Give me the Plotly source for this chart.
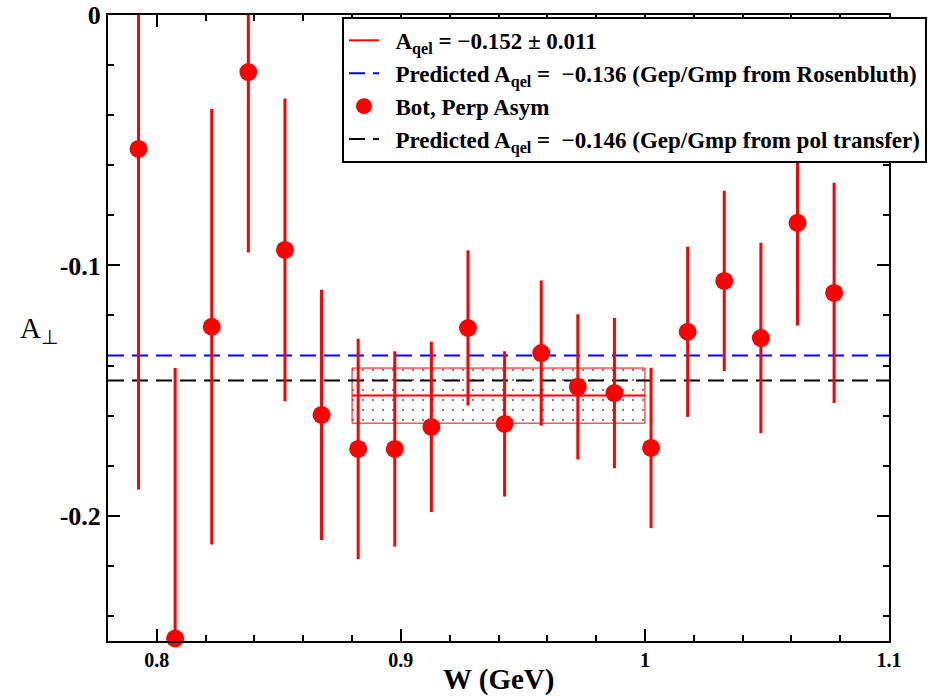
import plotly.graph_objects as go

# Data
W = [0.7925, 0.8075, 0.8225, 0.8375, 0.8525, 0.8675, 0.8825, 0.8975, 0.9125, 0.9275,
     0.9425, 0.9575, 0.9725, 0.9875, 1.0025, 1.0175, 1.0325, 1.0475, 1.0625, 1.0775]
A_perp = [-0.0535, -0.249, -0.1245, -0.0228, -0.0938, -0.1597, -0.1733, -0.1733, -0.1645, -0.125,
          -0.1633, -0.135, -0.1485, -0.151, -0.1729, -0.1265, -0.1062, -0.129, -0.083, -0.111]
A_err = [0.136, 0.108, 0.087, 0.072, 0.0605, 0.050, 0.044, 0.039, 0.034, 0.031,
         0.029, 0.029, 0.029, 0.030, 0.032, 0.034, 0.036, 0.038, 0.041, 0.044]

fit_value = -0.152
fit_error = 0.011
fit_range = [0.88, 1.0]
pred_rosenbluth = -0.136
pred_poltransfer = -0.146
x_range = [0.78, 1.1]
y_range = [-0.25, 0.0]

x_tickvals = [0.8, 0.9, 1.0, 1.1]
x_ticktext = ["0.8", "0.9", "1", "1.1"]
y_tickvals = [0.0, -0.1, -0.2]
y_ticktext = ["0", "-0.1", "-0.2"]

GAP = "\u2002"  # spacing between legend symbol and text

fig = go.Figure()

# Error band box (dotted)
lo, hi = fit_value - fit_error, fit_value + fit_error
fig.add_trace(go.Scatter(
    x=[fit_range[0], fit_range[1], fit_range[1], fit_range[0], fit_range[0]],
    y=[lo, lo, hi, hi, lo],
    mode="lines", fill="toself",
    line=dict(color="red", width=1),
    fillcolor="white",
    fillpattern=dict(shape=".", fgcolor="black", bgcolor="white", size=10, solidity=0.04),
    showlegend=False, hoverinfo="skip"))

fig.add_trace(go.Scatter(
    x=fit_range, y=[fit_value, fit_value], mode="lines",
    line=dict(color="red", width=2),
    name=GAP + "A<sub>qel</sub> = \u22120.152 \u00b1 0.011", legendrank=1))

fig.add_trace(go.Scatter(
    x=x_range, y=[pred_rosenbluth, pred_rosenbluth], mode="lines",
    line=dict(color="#0000ff", width=2, dash="16px,8px"),
    name=GAP + "Predicted A<sub>qel</sub> =  \u22120.136 (Gep/Gmp from Rosenbluth)", legendrank=2))

fig.add_trace(go.Scatter(
    x=x_range, y=[pred_poltransfer, pred_poltransfer], mode="lines",
    line=dict(color="black", width=2, dash="16px,8px"),
    name=GAP + "Predicted A<sub>qel</sub> =  \u22120.146 (Gep/Gmp from pol transfer)", legendrank=4))

fig.add_trace(go.Scatter(
    x=W, y=A_perp, mode="markers",
    marker=dict(color="red", size=18, symbol="circle"),
    error_y=dict(type="data", array=A_err, visible=True, color="red", thickness=3, width=0),
    name=GAP + "Bot, Perp Asym", legendrank=3, cliponaxis=False))

axis_common = dict(
    showgrid=False, zeroline=False, showline=True, linecolor="black", linewidth=2,
    mirror="allticks", ticks="inside", ticklen=12, tickwidth=2, tickcolor="black",
    automargin=False,
)

fig.update_xaxes(range=x_range, tickvals=x_tickvals, ticktext=x_ticktext,
                 tickfont=dict(family="Liberation Serif", size=20, color="black", weight="bold"),
                 minor=dict(dtick=0.02, ticks="inside", ticklen=6, tickwidth=2, tickcolor="black"),
                 **axis_common)
fig.update_yaxes(range=y_range, tickvals=y_tickvals, ticktext=y_ticktext,
                 tickfont=dict(family="Liberation Serif", size=26, color="black", weight="bold"),
                 minor=dict(dtick=0.02, tick0=0, ticks="inside", ticklen=6, tickwidth=2, tickcolor="black"),
                 **axis_common)

fig.add_annotation(text="W (GeV)", xref="paper", yref="paper",
                   x=0.4994, y=-0.061, xanchor="center", yanchor="middle", showarrow=False,
                   font=dict(family="Liberation Serif", size=29, color="black", weight="bold"))

fig.add_annotation(text="A<sub>\u22a5</sub>", xref="paper", yref="paper",
                   x=-0.115, y=0.497, xanchor="left", yanchor="middle", showarrow=False,
                   font=dict(family="Liberation Serif", size=29, color="black"))

fig.update_layout(
    width=945, height=696,
    margin=dict(l=108, r=56, t=15, b=55),
    plot_bgcolor="white", paper_bgcolor="white",
    legend=dict(x=0.2996, y=0.997, xanchor="left", yanchor="top",
                bgcolor="white", bordercolor="black", borderwidth=2,
                font=dict(family="Liberation Serif", size=23, color="black", weight="bold"),
                itemwidth=30, tracegroupgap=0),
)

fig.write_html("out.html", config={"displayModeBar": False},
               post_script="document.body.style.margin='0';")
